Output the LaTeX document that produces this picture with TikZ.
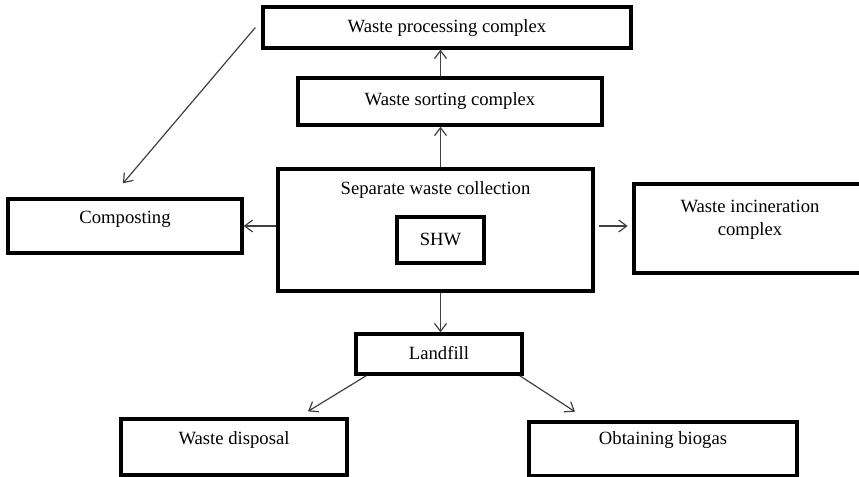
\documentclass[tikz,border=0pt]{standalone}
\usepackage{fontspec}
\setmainfont{Liberation Serif}
\usetikzlibrary{arrows.meta}

\tikzset{
  box/.style={draw, line width=2.5pt, inner sep=0pt, text height=0.68em, text depth=0.1em},
  lbl/.style={anchor=north, inner sep=0pt, align=center},
  arr/.style={draw=black!75, line width=0.9pt, -{Straight Barb[length=6pt,width=9pt]}}
}

\begin{document}
\begin{tikzpicture}[x=0.75pt, y=-0.75pt, font=\fontsize{14}{17.5}\selectfont]

% Page frame (the right box runs off the edge)
\clip (0,0) rectangle (859,477);

% Top boxes
\node[box, text height=0.8em, text depth=0pt, minimum width=276pt, minimum height=30.75pt] (proc) at (447,27.5) {Waste processing complex};
\node[box, minimum width=228pt, minimum height=35.25pt] (sort) at (450,101.5) {Waste sorting complex};

% Middle row
\node[box, minimum width=236.25pt, minimum height=91.5pt,
      label={[lbl, yshift=-10.5pt]north:Separate waste collection}] (coll) at (435.5,230) {};
\node[box, text height=0.75em, text depth=0pt, minimum width=65.25pt, minimum height=34.5pt] (shw) at (440.5,240) {SHW};
\node[box, minimum width=175.5pt, minimum height=40.5pt,
      label={[lbl, yshift=-10pt]north:Composting}] (comp) at (125,226) {};
\node[box, minimum width=174pt, minimum height=66.75pt,
      label={[lbl, yshift=-13pt]north:Waste incineration\\complex}] (inc) at (750,228.5) {};

% Bottom boxes
\node[box, text height=0.85em, text depth=0pt, minimum width=124.5pt, minimum height=30pt] (land) at (439,354) {Landfill};
\node[box, minimum width=169.5pt, minimum height=42pt,
      label={[lbl, yshift=-10.3pt]north:Waste disposal}] (disp) at (234,447) {};
\node[box, minimum width=201pt, minimum height=40.5pt,
      label={[lbl, yshift=-8.5pt]north:Obtaining biogas}] (bio) at (663,449) {};

% Arrows
\draw[arr] (sort.north -| shw) -- (proc.south -| shw);
\draw[arr] (coll.north -| shw) -- (sort.south -| shw);
\draw[arr] (coll.south -| shw) -- (land.north -| shw);
\draw[arr] (coll.west |- comp.east) -- (comp.east);
\draw[arr, shorten <=3.5pt, shorten >=3.5pt] (coll.east |- comp.east) -- (inc.west |- comp.east);
\draw[arr] ([xshift=-4.5pt]proc.west) -- ([xshift=-1.5pt,yshift=10.5pt]comp.north);
\draw[arr] ([xshift=9pt]land.south west) -- ([xshift=55.5pt,yshift=4.5pt]disp.north);
\draw[arr] ([xshift=-3pt]land.south east) -- ([xshift=-66pt,yshift=6.5pt]bio.north);

\end{tikzpicture}
\end{document}
